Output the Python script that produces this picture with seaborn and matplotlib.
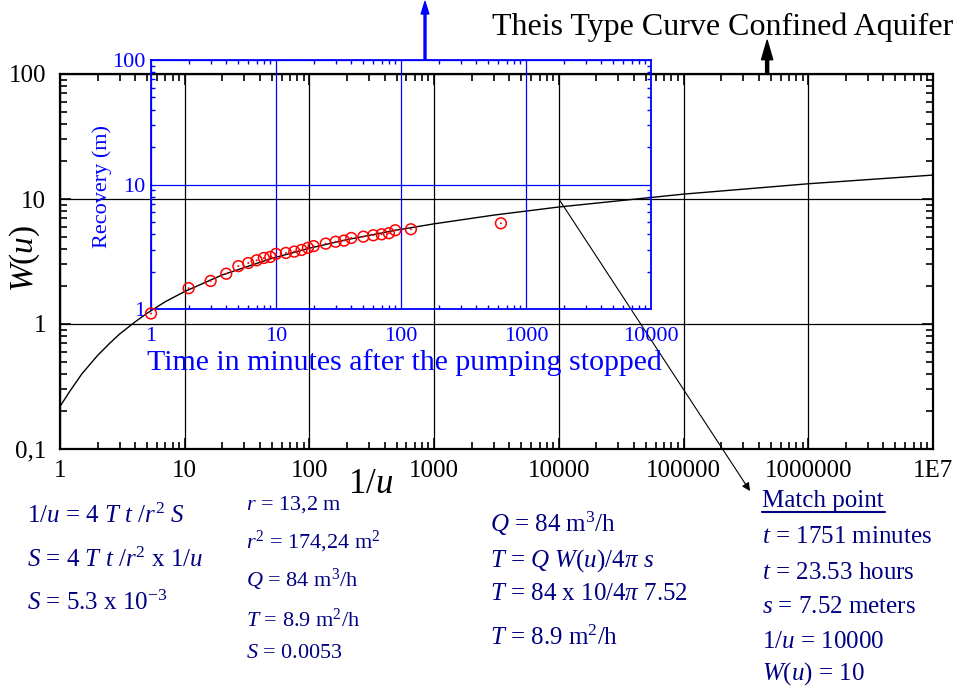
import matplotlib
matplotlib.use("Agg")
import matplotlib.pyplot as plt
import seaborn as sns
from matplotlib.ticker import LogLocator, NullFormatter
from matplotlib.lines import Line2D

# Theis type curve, W(u) against 1/u
inv_u = [1, 1.2, 1.5, 2, 2.5, 3, 4, 5, 7, 10, 20, 50, 100, 200, 500, 1000, 3000,
         10000, 100000, 1000000, 10000000]
w_u = [0.219, 0.29, 0.40, 0.56, 0.70, 0.83, 1.04, 1.22, 1.51, 1.82, 2.47, 3.35, 4.04,
       4.73, 5.64, 6.33, 7.43, 8.63, 10.94, 13.24, 15.54]

# recovery data (inset): minutes after pumping stopped, recovery in m
t_min = [1, 2, 3, 4, 5, 6, 7, 8, 9, 10, 12, 14, 16, 18, 20, 25, 30, 35, 40, 50,
         60, 70, 80, 90, 120, 630]
recovery = [0.92, 1.47, 1.68, 1.92, 2.21, 2.34, 2.46, 2.57, 2.62, 2.77, 2.82, 2.89,
            2.98, 3.10, 3.20, 3.35, 3.47, 3.54, 3.72, 3.81, 3.91, 3.98, 4.06, 4.29,
            4.37, 4.88]

x_ticks = [1, 10, 100, 1000, 10000, 100000, 1000000, 10000000]
x_labels = ["1", "10", "100", "1000", "10000", "100000", "1000000", "1E7"]
y_ticks = [0.1, 1, 10, 100]
y_labels = ["0,1", "1", "10", "100"]
in_x_ticks = [1, 10, 100, 1000, 10000]
in_x_labels = ["1", "10", "100", "1000", "10000"]
in_y_ticks = [1, 10, 100]
in_y_labels = ["1", "10", "100"]

# match point
match_x, match_y = 10000, 10

sns.set_style("ticks")
plt.rcParams["font.family"] = ["Liberation Serif", "DejaVu Serif"]
plt.rcParams["mathtext.fontset"] = "custom"
plt.rcParams["mathtext.rm"] = "Liberation Serif"
plt.rcParams["mathtext.it"] = "Liberation Serif:italic"
plt.rcParams["mathtext.bf"] = "Liberation Serif:bold"
plt.rcParams["text.color"] = "black"
plt.rcParams["axes.labelcolor"] = "black"
plt.rcParams["xtick.color"] = "black"
plt.rcParams["ytick.color"] = "black"

W, H = 957, 686
navy = "#000080"

fig = plt.figure(figsize=(W / 100, H / 100), dpi=100)

# main axes
ax = fig.add_axes([60 / W, 237 / H, 873 / W, 375 / H])
ax.set_xscale("log")
ax.set_yscale("log")
sns.lineplot(x=inv_u, y=w_u, ax=ax, color="black", lw=1)
ax.set_xlim(1, 1e7)
ax.set_ylim(0.1, 100)
ax.set_xticks(x_ticks, labels=x_labels)
ax.set_yticks(y_ticks, labels=y_labels)
for a in (ax.xaxis, ax.yaxis):
    a.set_minor_locator(LogLocator(base=10, subs=range(2, 10), numticks=20))
    a.set_minor_formatter(NullFormatter())
ax.tick_params(which="both", direction="in", top=True, right=True, width=1.2,
               colors="black", labelsize=18)
ax.tick_params(which="major", length=8)
ax.tick_params(which="minor", length=5)
ax.tick_params(axis="x", pad=8)
ax.tick_params(axis="y", pad=10)
ax.grid(which="major", color="black", lw=0.9)
for sp in ax.spines.values():
    sp.set_linewidth(1.6)
    sp.set_color("black")
ax.set_xlabel(r"$1/u$", fontsize=25, color="black")
ax.xaxis.set_label_coords((371 - 60) / 873, (449 - 468) / 375)
ax.set_ylabel(r"$W(u)$", fontsize=24, color="black")
ax.yaxis.set_label_coords((42 - 60) / 873, (449 - 258) / 375)

# inset with the recovery data
ax_in = fig.add_axes([151 / W, 377 / H, 500 / W, 249 / H])
ax_in.set_facecolor("none")
ax_in.set_xscale("log")
ax_in.set_yscale("log")
sns.scatterplot(x=t_min, y=recovery, ax=ax_in, marker="o", s=60,
                facecolor="none", edgecolor="red", linewidth=1.1, clip_on=False, zorder=5)
sns.scatterplot(x=t_min, y=recovery, ax=ax_in, marker="o", s=2,
                color="red", edgecolor="none", clip_on=False, zorder=6)
ax_in.set_xlim(1, 10000)
ax_in.set_ylim(1, 100)
ax_in.set_xticks(in_x_ticks, labels=in_x_labels)
ax_in.set_yticks(in_y_ticks, labels=in_y_labels)
for a in (ax_in.xaxis, ax_in.yaxis):
    a.set_minor_locator(LogLocator(base=10, subs=range(2, 10), numticks=20))
    a.set_minor_formatter(NullFormatter())
ax_in.tick_params(which="both", direction="in", top=True, right=True, width=1,
                  colors="blue", labelcolor="blue", labelsize=16)
ax_in.tick_params(which="major", length=0)
ax_in.tick_params(which="minor", length=3)
ax_in.tick_params(axis="x", pad=13)
ax_in.tick_params(axis="y", pad=4)
ax_in.grid(which="major", color="blue", lw=0.9)
for sp in ax_in.spines.values():
    sp.set_linewidth(1.3)
    sp.set_color("blue")
ax_in.set_xlabel("Time in minutes after the pumping stopped", fontsize=21.5, color="blue")
ax_in.xaxis.set_label_coords((404 - 151) / 500, (309 - 349) / 249)
ax_in.set_ylabel("Recovery (m)", fontsize=16, color="blue")
ax_in.yaxis.set_label_coords((112 - 151) / 500, (309 - 186) / 249)

# arrows
ax.annotate("", xy=(0.81, 1.09), xytext=(0.81, 1.0), xycoords="axes fraction",
            textcoords="axes fraction",
            arrowprops=dict(facecolor="black", edgecolor="black", width=2.2,
                            headwidth=8, headlength=14, shrink=0), annotation_clip=False)
ax_in.annotate("", xy=(0.548, 1.235), xytext=(0.548, 1.0), xycoords="axes fraction",
               textcoords="axes fraction",
               arrowprops=dict(facecolor="blue", edgecolor="blue", width=1.4,
                               headwidth=5.5, headlength=9, shrink=0), annotation_clip=False)
ax.annotate("", xy=(750 / W, 1 - 491 / H), xycoords="figure fraction",
            xytext=(match_x, match_y), textcoords="data",
            arrowprops=dict(arrowstyle="-|>", color="black", lw=0.8,
                            mutation_scale=12, shrinkA=0, shrinkB=0),
            annotation_clip=False)

fig.text(492 / W, 1 - 35 / H, "Theis Type Curve Confined Aquifer", fontsize=23,
         va="baseline", ha="left", color="black")

# worked solution texts
def put(x, y, s, size=18):
    fig.text(x / W, 1 - y / H, s, fontsize=size, color=navy, va="baseline", ha="left")

put(27, 523, r"$1/u$ = 4 $T$ $t$ /$r^2$ $S$")
put(27, 567, r"$S$ = 4 $T$ $t$ /$r^2$ x 1/$u$")
put(27, 610, r"$S$ = 5.3 x 10$^{-3}$")

put(246, 510, r"$r$ = 13,2 m", 16)
put(246, 548, r"$r^2$ = 174,24 m$^2$", 16)
put(246, 587, r"$Q$ = 84 m$^3$/h", 16)
put(246, 627, r"$T$ = 8.9 m$^2$/h", 16)
put(246, 658, r"$S$ = 0.0053", 16)

put(490, 532, r"$Q$ = 84 m$^3$/h")
put(490, 567, r"$T$ = $Q$ $W(u)$/4$\pi$ $s$")
put(490, 600, r"$T$ = 84 x 10/4$\pi$ 7.52")
put(490, 645, r"$T$ = 8.9 m$^2$/h")

put(762, 507, "Match point")
fig.add_artist(Line2D([762 / W, 885 / W], [1 - 512 / H, 1 - 512 / H], color=navy,
                      lw=1.5, transform=fig.transFigure))
put(762, 543, r"$t$ = 1751 minutes")
put(762, 579, r"$t$ = 23.53 hours")
put(762, 613, r"$s$ = 7.52 meters")
put(762, 648, r"$1/u$ = 10000")
put(762, 680, r"$W(u)$ = 10")

fig.savefig("out.png", dpi=100)
